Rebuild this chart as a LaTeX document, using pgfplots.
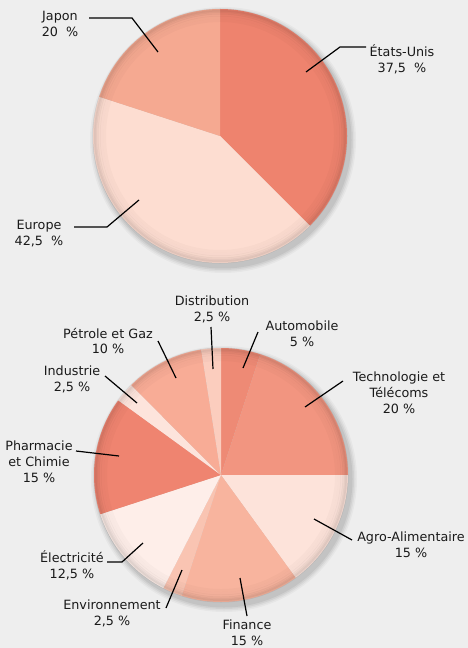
\documentclass[border=0pt]{standalone}
\usepackage{fontspec}
\setmainfont{DejaVu Sans}
\usepackage{pgfplots}
\usepackage{pgfplotstable}
\pgfplotsset{compat=1.18}

\definecolor{bg}{HTML}{EEEEEE}
\definecolor{txt}{HTML}{1A1A1A}
\definecolor{cUSA}{HTML}{EE836E}
\definecolor{cEUR}{HTML}{FDDDD1}
\definecolor{cJAP}{HTML}{F5A991}
\definecolor{cAUTO}{HTML}{EE8A75}
\definecolor{cTECH}{HTML}{F29580}
\definecolor{cAGRO}{HTML}{FDE3DA}
\definecolor{cFIN}{HTML}{F8B49E}
\definecolor{cENV}{HTML}{F9C4B2}
\definecolor{cELEC}{HTML}{FEEEE9}
\definecolor{cPHAR}{HTML}{EF8470}
\definecolor{cIND}{HTML}{FDE4DC}
\definecolor{cPET}{HTML}{F8AC96}
\definecolor{cDIST}{HTML}{FBCDBE}

% Zones géographiques
\pgfplotstableread{
value col
37.5 cUSA
42.5 cEUR
20   cJAP
}\toptable

% Secteurs
\pgfplotstableread{
value col
5    cAUTO
20   cTECH
15   cAGRO
15   cFIN
2.5  cENV
12.5 cELEC
15   cPHAR
2.5  cIND
10   cPET
2.5  cDIST
}\bottable

% #1 table, #2 cx, #3 cy, #4 radius (bp), #5 start angle
\newcommand{\drawpie}[5]{%
  \pgfplotstablegetrowsof{#1}%
  \pgfmathtruncatemacro\pieN{\pgfplotsretval-1}%
  \xdef\piecum{#5}%
  \foreach \k in {0,...,\pieN}{%
    \pgfplotstablegetelem{\k}{value}\of{#1}\let\pv\pgfplotsretval
    \pgfplotstablegetelem{\k}{col}\of{#1}\let\pc\pgfplotsretval
    \pgfmathsetmacro\pend{\piecum-3.6*\pv}%
    \edef\temp{\noexpand\fill[\pc] (axis cs:#2,#3) -- ++(\piecum:#4bp) arc[start angle=\piecum, end angle=\pend, radius=#4bp] -- cycle;}%
    \temp
    \xdef\piecum{\pend}%
  }%
}
% shadow and rim shading
\newcommand{\pieshadow}[3]{%
  \foreach \d/\o in {6/0.03,4.5/0.04,3/0.05,1.5/0.06}{%
    \edef\temp{\noexpand\fill[black, opacity=\o] (axis cs:#1+3,#2+4) circle[radius=#3bp+\d bp];}\temp
  }%
}
\newcommand{\pierim}[3]{%
  \foreach \d/\o in {1/0.07,2.5/0.05,4/0.04,6/0.03,8.5/0.025,11.5/0.02}{%
    \edef\temp{\noexpand\draw[black, opacity=\o, line width=3bp] (axis cs:#1,#2) circle[radius=#3bp-\d bp];}\temp
  }%
}

\begin{document}
\begin{tikzpicture}
\begin{axis}[
  x=1bp, y=1bp, xmin=0, xmax=468, ymin=0, ymax=648,
  y dir=reverse, hide axis, scale only axis, clip=false,
  anchor=south west, at={(0,0)},
]
\fill[bg] (axis cs:0,0) rectangle (axis cs:468,648);

% top pie
\pieshadow{220}{136}{127}
\drawpie{\toptable}{220}{136}{127}{90}
\pierim{220}{136}{127}

% bottom pie
\pieshadow{221}{475}{127}
\drawpie{\bottable}{221}{475}{127}{90}
\pierim{221}{475}{127}

\tikzset{lab/.style={align=center, text=txt, inner sep=0pt, font=\fontsize{12.8}{16}\selectfont},
         ld/.style={draw=black, line width=1.2bp}}

% top labels
\draw[ld] (axis cs:89,18) -- (axis cs:132,18) -- (axis cs:158,52);
\node[lab] at (axis cs:60,24) {Japon\\20~~\%};
\draw[ld] (axis cs:366,47) -- (axis cs:340,47) -- (axis cs:306,72);
\node[lab] at (axis cs:402,59.5) {États-Unis\\37,5~~\%};
\draw[ld] (axis cs:74,227) -- (axis cs:107,227) -- (axis cs:139,200);
\node[lab] at (axis cs:39,233.5) {Europe\\42,5~~\%};

% bottom labels
\draw[ld] (axis cs:211,327) -- (axis cs:213,369);
\node[lab] at (axis cs:212,309.5) {Distribution\\2,5 \%};
\draw[ld] (axis cs:258,332) -- (axis cs:243,368);
\node[lab] at (axis cs:302,333.5) {Automobile\\5 \%};
\draw[ld] (axis cs:343,381) -- (axis cs:305,407);
\node[lab] at (axis cs:399,393) {Technologie et\\Télécoms\\20 \%};
\draw[ld] (axis cs:352,540) -- (axis cs:314,519);
\node[lab] at (axis cs:411,545) {Agro-Alimentaire\\15 \%};
\draw[ld] (axis cs:247,616) -- (axis cs:240,578);
\node[lab] at (axis cs:247,632.5) {Finance\\15 \%};
\draw[ld] (axis cs:166,608) -- (axis cs:182,570);
\node[lab] at (axis cs:112,613) {Environnement\\2,5 \%};
\draw[ld] (axis cs:107,562) -- (axis cs:122,562) -- (axis cs:143,543);
\node[lab] at (axis cs:72,565) {Électricité\\12,5 \%};
\draw[ld] (axis cs:76,451) -- (axis cs:119,456);
\node[lab] at (axis cs:39,462) {Pharmacie\\et Chimie\\15 \%};
\draw[ld] (axis cs:105,376) -- (axis cs:137,403);
\node[lab] at (axis cs:72,379) {Industrie\\2,5 \%};
\draw[ld] (axis cs:158,341) -- (axis cs:176,378);
\node[lab] at (axis cs:108,341) {Pétrole et Gaz\\10 \%};
\end{axis}
\end{tikzpicture}
\end{document}
